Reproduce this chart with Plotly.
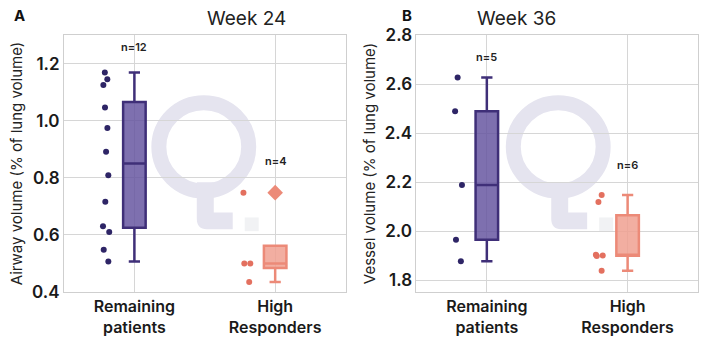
import numpy as np
import plotly.graph_objects as go
from plotly.subplots import make_subplots

categories = ["Remaining<br>patients", "High<br>Responders"]

# Week 24 airway volume (% of lung volume)
w24_remaining = [1.169, 1.145, 1.125, 1.046, 0.974, 0.891, 0.809, 0.716, 0.630, 0.610, 0.548, 0.507]
w24_high = [0.748, 0.500, 0.500, 0.435]
# Week 36 vessel volume (% of lung volume)
w36_remaining = [2.627, 2.489, 2.188, 1.965, 1.877]
w36_high = [2.148, 2.119, 1.904, 1.901, 1.899, 1.839]

left_ticks = [0.4, 0.6, 0.8, 1.0, 1.2]
right_ticks = [1.8, 2.0, 2.2, 2.4, 2.6, 2.8]

PURPLE_LINE = "#3f2f78"
PURPLE_FILL = "rgba(98,80,158,0.82)"
PURPLE_PT = "#2e2566"
SALMON_LINE = "#ec8a78"
SALMON_FILL = "rgba(240,160,145,0.85)"
SALMON_PT = "#e3705f"

W, H = 708, 346
ML, MR, MT, MB = 64, 9, 35, 49
PW, PH = W - ML - MR, H - MT - MB


def px(xp):
    return (xp - ML) / PW


def py(yp):
    return (H - MB - yp) / PH


FONT = "Inter"

fig = make_subplots(rows=1, cols=2, horizontal_spacing=(417 - 346) / PW)


def stats(vals):
    v = np.array(vals)
    q1, med, q3 = np.percentile(v, [25, 50, 75])
    iqr = q3 - q1
    lo_f, hi_f = q1 - 1.5 * iqr, q3 + 1.5 * iqr
    inside = v[(v >= lo_f) & (v <= hi_f)]
    lf = min(inside.min(), q1)
    uf = max(inside.max(), q3)
    out = v[(v < lo_f) | (v > hi_f)]
    return q1, med, q3, lf, uf, out


groups = [
    (1, w24_remaining, 0, PURPLE_LINE, PURPLE_FILL, PURPLE_PT),
    (1, w24_high, 1, SALMON_LINE, SALMON_FILL, SALMON_PT),
    (2, w36_remaining, 0, PURPLE_LINE, PURPLE_FILL, PURPLE_PT),
    (2, w36_high, 1, SALMON_LINE, SALMON_FILL, SALMON_PT),
]

for col, vals, idx, lc, fc, pc in groups:
    q1, med, q3, lf, uf, out = stats(vals)
    fig.add_trace(go.Box(
        x=[idx], q1=[q1], median=[med], q3=[q3], lowerfence=[lf], upperfence=[uf],
        width=0.16, whiskerwidth=0.5, fillcolor=fc, line=dict(color=lc, width=2.5),
        boxpoints=False, showlegend=False, hoverinfo="skip"), row=1, col=col)
    # strip points
    fig.add_trace(go.Box(
        y=vals, x0=idx, width=0.2, boxpoints="all", pointpos=-2.0, jitter=0.3,
        fillcolor="rgba(0,0,0,0)", line=dict(color="rgba(0,0,0,0)", width=0),
        marker=dict(color=pc, size=6), showlegend=False, hoverinfo="skip"), row=1, col=col)
    if len(out):
        fig.add_trace(go.Scatter(
            x=[idx] * len(out), y=list(out), mode="markers",
            marker=dict(symbol="diamond", size=12, color=lc),
            showlegend=False, hoverinfo="skip"), row=1, col=col)
    # n labels
    ypos = {(1, 0): 1.258, (1, 1): 0.86, (2, 0): 2.712, (2, 1): 2.268}[(col, idx)]
    fig.add_annotation(x=idx, y=ypos, text=f"n={len(vals)}", showarrow=False,
                       font=dict(family=FONT, size=11, color="#222", weight=600),
                       xref="x" if col == 1 else "x2", yref="y" if col == 1 else "y2")

axis_common = dict(showgrid=True, gridcolor="#d6d6d6", gridwidth=1, showline=True,
                   linecolor="#cfcfcf", linewidth=1, mirror=True, zeroline=False, ticks="")
fig.update_xaxes(**axis_common, tickvals=[0, 1], ticktext=categories, range=[-0.5, 1.5],
                 tickfont=dict(family=FONT, size=16, color="#1a1a1a", weight=600))
fig.update_yaxes(**axis_common, tickfont=dict(family=FONT, size=17, color="#1a1a1a", weight=600),
                 tickformat=".1f")
fig.update_yaxes(range=[0.4, 1.3], tickvals=left_ticks, row=1, col=1,
                 title=dict(text="Airway volume (% of lung volume)", standoff=5,
                            font=dict(family=FONT, size=15, color="#222")))
fig.update_yaxes(range=[1.752, 2.8], tickvals=right_ticks, row=1, col=2,
                 title=dict(text="Vessel volume (% of lung volume)", standoff=5,
                            font=dict(family=FONT, size=15, color="#222")))

# watermark logo ("Q.") behind each panel
LOGO = "rgb(229,228,239)"
for cx in (204, 559):
    r = 45
    fig.add_shape(type="circle", xref="paper", yref="paper", layer="below",
                  x0=px(cx - r), x1=px(cx + r), y0=py(149 + r), y1=py(149 - r),
                  line=dict(color=LOGO, width=15), fillcolor="rgba(0,0,0,0)")
    x0 = cx - 7
    fig.add_shape(type="path", xref="paper", yref="paper", layer="below",
                  path=(f"M {px(x0)} {py(185)} L {px(x0+17)} {py(185)} L {px(x0+17)} {py(216)} "
                        f"L {px(x0+36)} {py(216)} L {px(x0+36)} {py(233)} L {px(x0+10)} {py(233)} "
                        f"Q {px(x0)} {py(233)} {px(x0)} {py(222)} Z"),
                  fillcolor=LOGO, line=dict(width=0))
    fig.add_shape(type="rect", xref="paper", yref="paper", layer="below",
                  x0=px(cx + 41), x1=px(cx + 55), y0=py(235), y1=py(221),
                  fillcolor="rgb(241,242,244)", line=dict(width=0))

# panel titles and letters
for xc, t in ((205, "Week 24"), (559, "Week 36")):
    fig.add_annotation(x=px(xc), y=py(18), xref="paper", yref="paper", text=t,
                       showarrow=False, yanchor="middle",
                       font=dict(family=FONT, size=19, color="#222"))
for xc, t in ((12, "A"), (408, "B")):
    fig.add_annotation(x=px(xc), y=py(15), xref="paper", yref="paper", text=t,
                       showarrow=False, yanchor="middle",
                       font=dict(family=FONT, size=15, color="#111", weight=700))

fig.update_layout(width=W, height=H, margin=dict(l=ML, r=MR, t=MT, b=MB),
                  plot_bgcolor="white", paper_bgcolor="white", boxmode="overlay",
                  font=dict(family=FONT))

fig.write_html("out.html")
